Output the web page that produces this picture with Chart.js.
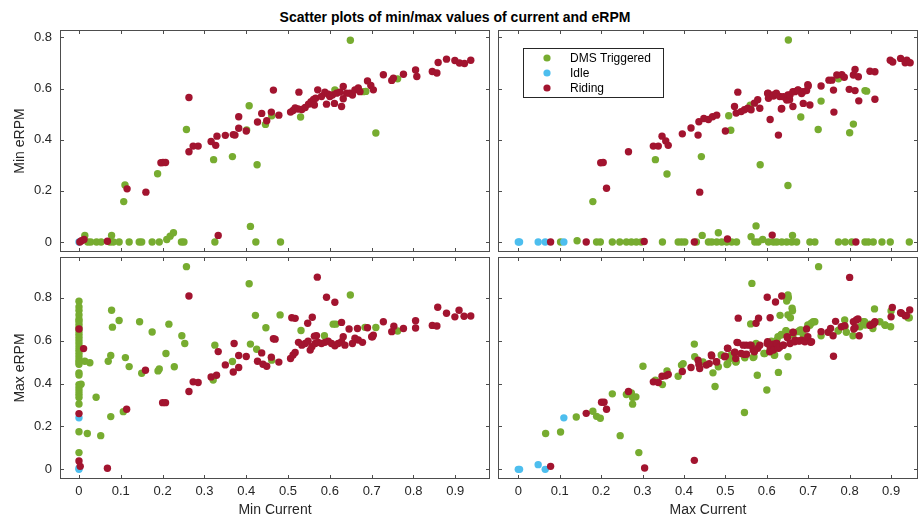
<!DOCTYPE html>
<html>
<head>
<meta charset="utf-8">
<script src="https://cdn.jsdelivr.net/npm/chart.js@4.4.0/dist/chart.umd.min.js"></script>
<style>
  body { margin: 0; background: #fff; width: 920px; height: 519px; position: relative; overflow: hidden; font-family: "Liberation Sans", Arial, sans-serif; }
  .title { position: absolute; left: 0; top: 9px; width: 910px; text-align: center; font-weight: bold; font-size: 14px; color: #000; }
  canvas { position: absolute; }
</style>
</head>
<body>
<div class="title">Scatter plots of min/max values of current and eRPM</div>
<canvas id="tl" width="492" height="225" style="left:0;top:29px"></canvas>
<canvas id="tr" width="424" height="225" style="left:496px;top:29px"></canvas>
<canvas id="bl" width="492" height="263" style="left:0;top:256px"></canvas>
<canvas id="br" width="424" height="263" style="left:496px;top:256px"></canvas>
<script>
const labels = ['DMS Triggered', 'Idle', 'Riding'];
const colors = ['#77AC30', '#4DBEEE', '#A2142F'];
const xTicks = [0, 0.1, 0.2, 0.3, 0.4, 0.5, 0.6, 0.7, 0.8, 0.9];
const yTicks = [0, 0.2, 0.4, 0.6, 0.8];

// top left: min current vs min eRPM
const tlDms = [[0.014,0.026],[0.021,0],[0.028,0],[0.042,0],[0.053,0],[0.074,0],[0.078,0.026],[0.082,0],[0.096,0],
  [0.107,0.158],[0.11,0.223],[0.12,0],[0.144,0],[0.15,0],[0.175,0],[0.192,0],[0.188,0.267],[0.21,0.01],[0.218,0.023],
  [0.226,0.036],[0.245,0],[0.251,0],[0.257,0.44],[0.322,0.322],[0.325,0],[0.367,0.334],[0.401,0.438],[0.407,0.533],
  [0.41,0.061],[0.423,0],[0.426,0.302],[0.446,0.46],[0.461,0.494],[0.482,0],[0.53,0.489],[0.612,0.595],[0.68,0.588],
  [0.649,0.789],[0.686,0.589],[0.71,0.426],[0.762,0.638]];
const tlIdle = [[0,0]];
const tlRiding = [[0.002,0],[0.006,0.005],[0.012,0.01],[0.068,0.003],[0.115,0.208],[0.16,0.195],[0.196,0.31],[0.201,0.311],
  [0.207,0.311],[0.263,0.565],[0.263,0.353],[0.273,0.375],[0.285,0.375],[0.316,0.393],[0.327,0.378],[0.33,0.414],[0.333,0.026],
  [0.35,0.417],[0.369,0.42],[0.373,0.418],[0.382,0.49],[0.382,0.445],[0.4,0.434],[0.427,0.469],[0.437,0.503],[0.449,0.474],
  [0.46,0.508],[0.465,0.594],[0.478,0.496],[0.506,0.508],[0.512,0.514],[0.517,0.524],[0.524,0.52],[0.526,0.586],[0.533,0.518],
  [0.541,0.526],[0.549,0.539],[0.555,0.549],[0.561,0.557],[0.563,0.536],[0.566,0.562],[0.571,0.595],[0.58,0.569],[0.588,0.586],
  [0.592,0.539],[0.596,0.578],[0.6,0.569],[0.606,0.575],[0.611,0.542],[0.616,0.582],[0.624,0.586],[0.628,0.53],[0.632,0.608],
  [0.632,0.56],[0.64,0.582],[0.648,0.582],[0.654,0.575],[0.66,0.595],[0.668,0.602],[0.672,0.588],[0.69,0.63],[0.698,0.612],
  [0.704,0.595],[0.728,0.654],[0.748,0.632],[0.752,0.641],[0.776,0.656],[0.805,0.673],[0.808,0.647],[0.845,0.667],[0.856,0.661],
  [0.859,0.702],[0.879,0.715],[0.899,0.71],[0.91,0.7],[0.922,0.698],[0.937,0.711]];

// top right: max current vs min eRPM
const trDms = [[0.102,0],[0.142,0.005],[0.189,0],[0.198,0],[0.227,0],[0.245,0],[0.261,0],[0.273,0],[0.285,0],[0.297,0],
  [0.348,0],[0.386,0],[0.394,0],[0.402,0],[0.43,0],[0.459,0],[0.467,0],[0.479,0],[0.491,0],[0.503,0],[0.515,0],[0.527,0],
  [0.571,0],[0.579,0],[0.604,0],[0.616,0],[0.624,0],[0.636,0],[0.648,0],[0.66,0],[0.672,0],[0.704,0],[0.716,0],[0.773,0],
  [0.789,0],[0.805,0],[0.837,0],[0.845,0],[0.857,0],[0.878,0],[0.898,0],[0.944,0],[0.444,0.026],[0.483,0.036],[0.562,0.021],
  [0.574,0.063],[0.662,0.026],[0.59,0.01],[0.18,0.158],[0.331,0.322],[0.359,0.266],[0.442,0.334],[0.508,0.494],[0.513,0.437],
  [0.584,0.302],[0.652,0.79],[0.651,0.221],[0.682,0.489],[0.724,0.44],[0.731,0.551],[0.773,0.638],[0.8,0.427],[0.809,0.461],
  [0.837,0.592],[0.841,0.59],[0.56,0.535]];
const trIdle = [[0,0],[0.003,0],[0.048,0],[0.065,0],[0.11,0]];
const trRiding = [[0.078,0],[0.164,0],[0.304,0.002],[0.425,0],[0.505,0.012],[0.613,0.027],[0.815,0],[0.199,0.31],[0.205,0.311],
  [0.213,0.21],[0.266,0.353],[0.326,0.375],[0.338,0.375],[0.347,0.414],[0.356,0.395],[0.362,0.378],[0.396,0.423],[0.417,0.446],
  [0.434,0.418],[0.436,0.47],[0.438,0.195],[0.448,0.483],[0.459,0.479],[0.469,0.49],[0.479,0.496],[0.5,0.434],[0.522,0.53],
  [0.526,0.504],[0.53,0.586],[0.538,0.51],[0.546,0.517],[0.554,0.523],[0.562,0.517],[0.57,0.543],[0.578,0.556],[0.583,0.523],
  [0.602,0.581],[0.603,0.582],[0.604,0.562],[0.608,0.479],[0.615,0.575],[0.616,0.571],[0.622,0.578],[0.623,0.582],[0.628,0.418],
  [0.631,0.569],[0.635,0.52],[0.636,0.522],[0.64,0.568],[0.648,0.555],[0.651,0.575],[0.655,0.556],[0.656,0.575],[0.663,0.53],
  [0.663,0.588],[0.668,0.588],[0.675,0.595],[0.676,0.594],[0.684,0.581],[0.687,0.588],[0.688,0.542],[0.696,0.592],[0.699,0.615],
  [0.7,0.61],[0.704,0.536],[0.731,0.61],[0.75,0.633],[0.757,0.633],[0.761,0.594],[0.762,0.508],[0.769,0.653],[0.781,0.654],
  [0.787,0.644],[0.799,0.597],[0.809,0.653],[0.813,0.675],[0.813,0.592],[0.821,0.646],[0.822,0.552],[0.849,0.668],[0.861,0.666],
  [0.861,0.558],[0.898,0.711],[0.904,0.704],[0.923,0.718],[0.934,0.701],[0.938,0.711],[0.946,0.701]];

// bottom left: min current vs max eRPM
const blDms = [[0,0.784],[0,0.757],[0,0.74],[0,0.72],[0,0.7],[0,0.69],[0,0.675],[0,0.66],[0,0.645],[0,0.63],[0,0.615],
  [0,0.6],[0,0.585],[0,0.57],[0,0.555],[0,0.54],[0,0.525],[0,0.51],[0,0.5],[0,0.49],[0,0.45],[0,0.44],[0,0.395],[0,0.38],
  [0,0.365],[0,0.35],[0,0.335],[0,0.305],[0,0.175],[0,0.078],[0.014,0.504],[0.026,0.497],[0.005,0.397],[0.02,0.167],
  [0.041,0.336],[0.052,0.157],[0.07,0.504],[0.076,0.531],[0.078,0.742],[0.08,0.663],[0.076,0.246],[0.096,0.694],[0.106,0.269],
  [0.111,0.521],[0.12,0.479],[0.145,0.688],[0.15,0.448],[0.175,0.64],[0.189,0.459],[0.192,0.468],[0.208,0.54],[0.215,0.677],
  [0.228,0.478],[0.246,0.623],[0.253,0.587],[0.257,0.945],[0.321,0.416],[0.325,0.579],[0.367,0.503],[0.407,0.865],[0.41,0.584],
  [0.422,0.718],[0.425,0.56],[0.447,0.66],[0.461,0.509],[0.481,0.72],[0.531,0.647],[0.587,0.623],[0.608,0.677],[0.614,0.677],
  [0.649,0.813],[0.684,0.662],[0.71,0.661],[0.762,0.645]];
const blIdle = [[0,0.24],[0,0],[0,0.005]];
const blRiding = [[0,0.654],[0,0.26],[0,0.039],[0.003,0.014],[0.011,0.563],[0.068,0.005],[0.114,0.28],[0.159,0.462],[0.2,0.311],
  [0.207,0.311],[0.263,0.808],[0.263,0.363],[0.273,0.408],[0.285,0.405],[0.316,0.431],[0.329,0.439],[0.333,0.549],[0.35,0.487],
  [0.369,0.454],[0.371,0.587],[0.382,0.531],[0.382,0.475],[0.4,0.526],[0.427,0.504],[0.437,0.543],[0.44,0.49],[0.449,0.481],
  [0.46,0.523],[0.465,0.609],[0.469,0.607],[0.478,0.5],[0.506,0.517],[0.512,0.533],[0.517,0.545],[0.509,0.707],[0.517,0.704],
  [0.525,0.592],[0.533,0.579],[0.541,0.587],[0.547,0.681],[0.548,0.598],[0.553,0.556],[0.557,0.572],[0.558,0.709],[0.563,0.621],
  [0.565,0.587],[0.568,0.623],[0.57,0.896],[0.572,0.592],[0.58,0.587],[0.588,0.592],[0.592,0.802],[0.596,0.598],[0.604,0.587],
  [0.612,0.779],[0.612,0.576],[0.62,0.587],[0.628,0.595],[0.628,0.685],[0.632,0.618],[0.636,0.579],[0.646,0.654],[0.654,0.587],
  [0.66,0.611],[0.666,0.657],[0.668,0.603],[0.678,0.592],[0.69,0.66],[0.7,0.618],[0.702,0.618],[0.704,0.626],[0.728,0.688],
  [0.748,0.642],[0.753,0.667],[0.776,0.657],[0.805,0.693],[0.805,0.659],[0.845,0.671],[0.856,0.668],[0.858,0.756],[0.879,0.728],
  [0.899,0.711],[0.909,0.742],[0.921,0.714],[0.937,0.715]];

// bottom right: max current vs max eRPM
const brDms = [[0.066,0.167],[0.102,0.174],[0.14,0.244],[0.18,0.271],[0.189,0.247],[0.198,0.238],[0.227,0.352],[0.246,0.157],
  [0.261,0.349],[0.273,0.356],[0.276,0.335],[0.284,0.338],[0.276,0.304],[0.291,0.078],[0.301,0.481],[0.331,0.416],[0.348,0.395],
  [0.359,0.459],[0.386,0.434],[0.394,0.486],[0.398,0.493],[0.425,0.584],[0.426,0.525],[0.446,0.501],[0.47,0.45],[0.475,0.386],
  [0.483,0.478],[0.49,0.533],[0.491,0.532],[0.504,0.489],[0.506,0.494],[0.511,0.517],[0.514,0.533],[0.525,0.5],[0.526,0.502],
  [0.546,0.265],[0.546,0.525],[0.547,0.52],[0.564,0.867],[0.561,0.678],[0.567,0.521],[0.569,0.525],[0.574,0.587],[0.575,0.579],
  [0.577,0.439],[0.593,0.54],[0.595,0.54],[0.6,0.37],[0.608,0.556],[0.611,0.598],[0.618,0.532],[0.619,0.533],[0.624,0.602],
  [0.627,0.618],[0.628,0.452],[0.632,0.718],[0.634,0.626],[0.635,0.629],[0.646,0.646],[0.647,0.645],[0.648,0.785],[0.651,0.813],
  [0.651,0.525],[0.651,0.72],[0.652,0.8],[0.657,0.707],[0.661,0.751],[0.662,0.739],[0.663,0.626],[0.675,0.642],[0.68,0.649],
  [0.683,0.65],[0.688,0.626],[0.699,0.673],[0.704,0.672],[0.707,0.681],[0.712,0.688],[0.716,0.688],[0.725,0.945],[0.731,0.623],
  [0.772,0.645],[0.773,0.649],[0.788,0.696],[0.789,0.665],[0.792,0.639],[0.808,0.623],[0.825,0.665],[0.833,0.688],[0.836,0.688],
  [0.838,0.673],[0.849,0.677],[0.856,0.657],[0.86,0.748],[0.873,0.688],[0.885,0.673],[0.886,0.672],[0.899,0.665],[0.9,0.738],
  [0.941,0.707],[0.944,0.707]];
const brIdle = [[0,0],[0.003,0],[0.048,0.022],[0.065,0],[0.11,0.24]];
const brRiding = [[0.078,0.014],[0.305,0.006],[0.425,0.042],[0.8,0.895],[0.164,0.261],[0.201,0.313],[0.207,0.313],[0.213,0.28],
  [0.266,0.363],[0.326,0.408],[0.338,0.405],[0.347,0.434],[0.356,0.436],[0.362,0.442],[0.396,0.456],[0.417,0.475],[0.434,0.509],
  [0.436,0.489],[0.438,0.47],[0.454,0.486],[0.461,0.493],[0.466,0.533],[0.467,0.529],[0.478,0.502],[0.479,0.501],[0.498,0.525],
  [0.5,0.528],[0.505,0.565],[0.506,0.564],[0.522,0.545],[0.523,0.546],[0.525,0.517],[0.528,0.592],[0.53,0.591],[0.531,0.705],
  [0.538,0.54],[0.543,0.579],[0.546,0.536],[0.55,0.579],[0.551,0.537],[0.559,0.579],[0.562,0.579],[0.567,0.556],[0.57,0.548],
  [0.574,0.681],[0.578,0.564],[0.58,0.705],[0.583,0.579],[0.601,0.802],[0.601,0.587],[0.602,0.595],[0.607,0.548],[0.608,0.707],
  [0.608,0.571],[0.615,0.583],[0.616,0.556],[0.621,0.78],[0.623,0.587],[0.624,0.587],[0.628,0.564],[0.632,0.571],[0.636,0.808],
  [0.639,0.579],[0.64,0.579],[0.649,0.618],[0.65,0.613],[0.656,0.587],[0.663,0.639],[0.664,0.638],[0.667,0.595],[0.668,0.602],
  [0.676,0.599],[0.679,0.598],[0.684,0.602],[0.691,0.598],[0.692,0.595],[0.696,0.654],[0.699,0.618],[0.706,0.592],[0.708,0.595],
  [0.731,0.642],[0.748,0.639],[0.754,0.657],[0.76,0.623],[0.761,0.527],[0.766,0.69],[0.78,0.665],[0.788,0.67],[0.809,0.688],
  [0.81,0.654],[0.813,0.661],[0.816,0.696],[0.82,0.701],[0.823,0.623],[0.849,0.671],[0.851,0.673],[0.857,0.677],[0.86,0.684],
  [0.861,0.688],[0.9,0.711],[0.903,0.755],[0.923,0.73],[0.925,0.728],[0.934,0.716],[0.937,0.717],[0.945,0.743]];

const textColor = '#262626';
const frameColor = '#4d4d4d';
const fontFamily = '"Liberation Sans", Arial, sans-serif';

// frame with inward tick marks on all four sides
const framePlugin = {
  id: 'frame',
  afterDatasetsDraw(chart) {
    const {ctx, chartArea: a, scales: {x, y}} = chart;
    ctx.save();
    ctx.strokeStyle = frameColor;
    ctx.lineWidth = 1;
    ctx.beginPath();
    x.ticks.forEach(t => {
      const px = Math.round(x.getPixelForValue(t.value)) + 0.5;
      ctx.moveTo(px, a.bottom); ctx.lineTo(px, a.bottom - 4);
      ctx.moveTo(px, a.top); ctx.lineTo(px, a.top + 4);
    });
    y.ticks.forEach(t => {
      const py = Math.round(y.getPixelForValue(t.value)) + 0.5;
      ctx.moveTo(a.left, py); ctx.lineTo(a.left + 4, py);
      ctx.moveTo(a.right, py); ctx.lineTo(a.right - 4, py);
    });
    ctx.stroke();
    ctx.strokeRect(a.left + 0.5, a.top + 0.5, a.right - a.left - 1, a.bottom - a.top - 1);
    ctx.restore();
  }
};

// legend box inside the top right panel
const legendPlugin = {
  id: 'boxLegend',
  afterDraw(chart) {
    const {ctx, chartArea: a} = chart;
    const bx = a.left + 25, by = a.top + 18;
    ctx.save();
    ctx.fillStyle = '#fff';
    ctx.fillRect(bx, by, 140, 49);
    ctx.strokeStyle = '#262626';
    ctx.lineWidth = 1;
    ctx.strokeRect(bx + 0.5, by + 0.5, 140, 49);
    ctx.font = '12px ' + fontFamily;
    ctx.textBaseline = 'middle';
    chart.data.datasets.forEach((ds, i) => {
      const ry = by + 10 + i * 15;
      ctx.fillStyle = ds.backgroundColor;
      ctx.beginPath();
      ctx.arc(bx + 24, ry, 3.6, 0, Math.PI * 2);
      ctx.fill();
      ctx.fillStyle = '#000';
      ctx.fillText(ds.label, bx + 47, ry + 1);
    });
    ctx.restore();
  }
};

function toPoints(arr) {
  return arr.map(p => ({x: p[0], y: p[1]}));
}

function makePanel(id, series, cfg) {
  const datasets = series.map((s, i) => ({
    label: labels[i],
    data: toPoints(s),
    backgroundColor: colors[i],
    borderWidth: 0,
    pointRadius: 3.7,
    order: 2 - i
  }));
  const plugins = [framePlugin];
  if (cfg.legend) plugins.push(legendPlugin);
  new Chart(document.getElementById(id), {
    type: 'scatter',
    data: { datasets: datasets },
    plugins: plugins,
    options: {
      responsive: false,
      animation: false,
      layout: { autoPadding: false, padding: { top: 1, right: 2, bottom: 0, left: 0 } },
      plugins: { legend: { display: false }, tooltip: { enabled: false } },
      scales: {
        x: {
          type: 'linear',
          min: cfg.xMin, max: cfg.xMax,
          afterFit: s => {
            s.height = cfg.xLabel ? 40 : 2;
            s.paddingLeft = 0; s.paddingRight = 0; s.paddingTop = 0; s.paddingBottom = 0;
          },
          afterBuildTicks: s => { s.ticks = xTicks.map(v => ({value: v})); },
          grid: { display: false, drawTicks: false },
          border: { display: false },
          ticks: {
            display: !!cfg.xLabel, padding: 5, color: textColor,
            font: { family: fontFamily, size: 13 },
            callback: v => +v.toFixed(1)
          },
          title: {
            display: !!cfg.xLabel, text: cfg.xLabel || '', color: textColor,
            font: { family: fontFamily, size: 14 }, padding: { top: 0, bottom: 0 }
          }
        },
        y: {
          type: 'linear',
          min: cfg.yMin, max: cfg.yMax,
          afterFit: s => {
            s.width = cfg.yLabel ? 60 : 2;
            s.paddingLeft = 0; s.paddingRight = 0; s.paddingTop = 0; s.paddingBottom = 0;
          },
          afterBuildTicks: s => { s.ticks = yTicks.map(v => ({value: v})); },
          grid: { display: false, drawTicks: false },
          border: { display: false },
          ticks: {
            display: !!cfg.yLabel, padding: 8, color: textColor,
            font: { family: fontFamily, size: 13 },
            callback: v => +v.toFixed(1)
          },
          title: {
            display: !!cfg.yLabel, text: cfg.yLabel || '', color: textColor,
            font: { family: fontFamily, size: 14 }, padding: { top: 12, bottom: 0 }
          }
        }
      }
    }
  });
}

makePanel('tl', [tlDms, tlIdle, tlRiding], { xMin: -0.0454, xMax: 0.983, yMin: -0.039, yMax: 0.829, yLabel: 'Min eRPM' });
makePanel('tr', [trDms, trIdle, trRiding], { xMin: -0.049, xMax: 0.965, yMin: -0.039, yMax: 0.829, legend: true });
makePanel('bl', [blDms, blIdle, blRiding], { xMin: -0.0454, xMax: 0.983, yMin: -0.045, yMax: 0.99, yLabel: 'Max eRPM', xLabel: 'Min Current' });
makePanel('br', [brDms, brIdle, brRiding], { xMin: -0.049, xMax: 0.965, yMin: -0.045, yMax: 0.99, xLabel: 'Max Current' });
</script>
</body>
</html>
